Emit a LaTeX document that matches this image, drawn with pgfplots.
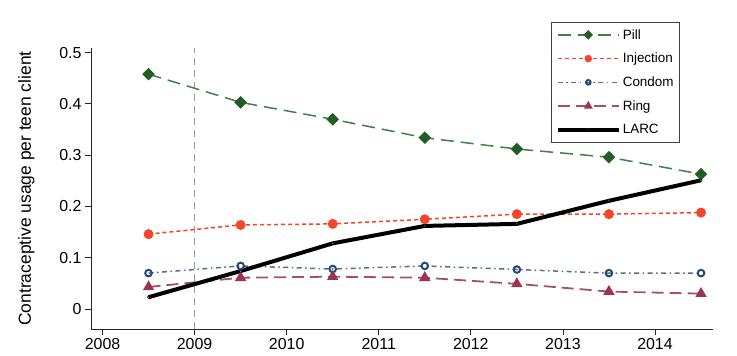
\documentclass[border=0pt]{standalone}
\usepackage{fontspec}
\setmainfont{Liberation Sans}
\usepackage{pgfplots}
\pgfplotsset{compat=1.18}
\definecolor{pillc}{HTML}{245C28}
\definecolor{pilll}{HTML}{427F44}
\definecolor{injc}{HTML}{F2452B}
\definecolor{conc}{HTML}{24497A}
\definecolor{conl}{HTML}{53708F}
\definecolor{ringc}{HTML}{9C3450}
\definecolor{ringl}{HTML}{A55068}
\begin{document}
\begin{tikzpicture}[x=1bp,y=1bp]
\begin{axis}[
  scale only axis,
  width=622bp, height=281bp,
  xmin=2007.875, xmax=2014.63,
  ymin=-0.039, ymax=0.509,
  axis lines*=left,
  axis line style={black!85, line width=0.9bp},
  xtick={2008,2009,2010,2011,2012,2013,2014},
  ytick={0,0.1,0.2,0.3,0.4,0.5},
  yticklabels={0,0.1,0.2,0.3,0.4,0.5},
  /pgf/number format/1000 sep={},
  /pgf/number format/assume math mode=true,
  tick align=outside,
  major tick length=6bp,
  tick style={black!85, line width=0.8bp},
  ticklabel style={font=\fontsize{16}{18}\selectfont},
  ylabel={Contraceptive usage per teen client},
  ylabel style={font=\fontsize{17.5}{20}\selectfont, at={(-0.085,0.5)}},
  legend style={at={(0.947,1.093)}, anchor=north east, draw=black!75, line width=0.8bp,
    font=\fontsize{13.5}{15}\selectfont, row sep=8.5bp, inner xsep=4bp, inner ysep=5bp},
  legend cell align=left,
  legend image code/.code={\draw[#1, mark=none] (0bp,0bp) -- (61bp,0bp); \draw[#1, every mark/.append style={scale=0.7}, mark repeat=2, mark phase=2] plot coordinates {(0bp,0bp) (30.5bp,0bp) (61bp,0bp)};},
  clip=false,
]
\addplot[gray!80, line width=1.1bp, dash pattern=on 7bp off 5bp, forget plot] coordinates {(2009,-0.039) (2009,0.509)};
\addplot[pilll, line width=1.5bp, dash pattern=on 13bp off 7bp, mark=square*, mark size=3.7bp, mark options={solid, rotate=45, fill=pillc, draw=pillc}]
  coordinates {(2008.5,0.458) (2009.5,0.403) (2010.5,0.370) (2011.5,0.334) (2012.5,0.312) (2013.5,0.296) (2014.5,0.263)};
\addlegendentry{Pill}
\addplot[injc, line width=1.5bp, dash pattern=on 4bp off 3bp, mark=*, mark size=4.2bp, mark options={solid, fill=injc, draw=injc}]
  coordinates {(2008.5,0.146) (2009.5,0.164) (2010.5,0.166) (2011.5,0.175) (2012.5,0.185) (2013.5,0.185) (2014.5,0.188)};
\addlegendentry{Injection}
\addplot[conl, line width=1.5bp, dash pattern=on 5bp off 3.5bp on 1.5bp off 3.5bp, mark=o, mark size=3.3bp, mark options={solid, draw=conc, line width=2bp}]
  coordinates {(2008.5,0.070) (2009.5,0.084) (2010.5,0.078) (2011.5,0.084) (2012.5,0.077) (2013.5,0.070) (2014.5,0.070)};
\addlegendentry{Condom}
\addplot[ringl, line width=1.8bp, dash pattern=on 12bp off 6bp, mark=triangle*, mark size=4.8bp, mark options={solid, fill=ringc, draw=ringc}]
  coordinates {(2008.5,0.043) (2009.5,0.061) (2010.5,0.063) (2011.5,0.061) (2012.5,0.049) (2013.5,0.034) (2014.5,0.030)};
\addlegendentry{Ring}
\addplot[black, line width=4bp, mark=*, mark size=1.2bp, mark options={fill=white!70!black, draw=black, line width=0.5bp}]
  coordinates {(2008.5,0.023) (2009.5,0.074) (2010.5,0.128) (2011.5,0.162) (2012.5,0.166) (2013.5,0.211) (2014.5,0.251)};
\addlegendentry{LARC}
\end{axis}
\path (current axis.south west) ++(-91bp,-27bp);
\path (current axis.north east) ++(24bp,48bp);
\end{tikzpicture}
\end{document}
